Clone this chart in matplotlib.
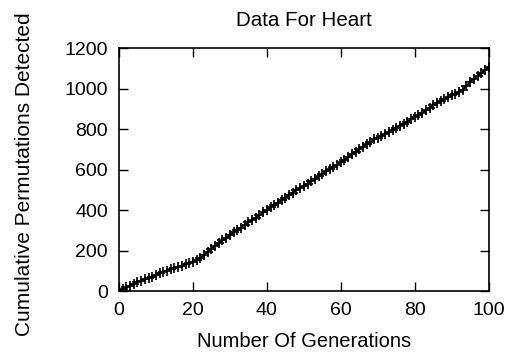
import matplotlib
matplotlib.use('Agg')
import matplotlib.pyplot as plt

generations = list(range(0, 101))
permutations = [
    4, 12, 20, 28, 38, 47, 53, 59, 66, 73,
    80, 88, 95, 102, 109, 115, 121, 127, 133, 139,
    146, 154, 165, 178, 194, 211, 224, 237, 251, 264,
    277, 291, 304, 315, 328, 341, 352, 364, 377, 390,
    403, 415, 427, 438, 450, 462, 474, 487, 500, 510,
    520, 531, 543, 555, 567, 580, 592, 604, 615, 626,
    637, 650, 663, 676, 690, 703, 714, 725, 737, 750,
    759, 768, 778, 788, 798, 808, 818, 828, 838, 849,
    859, 871, 883, 894, 906, 918, 930, 941, 950, 958,
    967, 976, 985, 996, 1013, 1036, 1050, 1064, 1078, 1092,
    1108,
]

plt.rcParams['font.family'] = ['Liberation Sans', 'DejaVu Sans']

fig = plt.figure(figsize=(5.18, 3.56), dpi=100)
ax = fig.add_axes([0.2297, 0.1817, 0.7137, 0.6826])

ax.plot(generations, permutations, color='black', linewidth=1.3,
        marker='+', markersize=7, markeredgewidth=1.2)

ax.set_xlim(0, 100)
ax.set_ylim(0, 1200)
ax.set_xticks([0, 20, 40, 60, 80, 100])
ax.set_yticks([0, 200, 400, 600, 800, 1000, 1200])
ax.tick_params(direction='in', length=6.5, width=1, top=True, right=True,
               labelsize=14, pad=8)
for s in ax.spines.values():
    s.set_linewidth(1.2)

ax.set_title('Data For Heart', fontsize=14.8, pad=16)
ax.set_xlabel('Number Of Generations', fontsize=14.5, labelpad=9)
ax.set_ylabel('Cumulative Permutations Detected', fontsize=15)
ax.yaxis.set_label_coords(-0.23, 0.483)

fig.savefig('out.png', dpi=100)
